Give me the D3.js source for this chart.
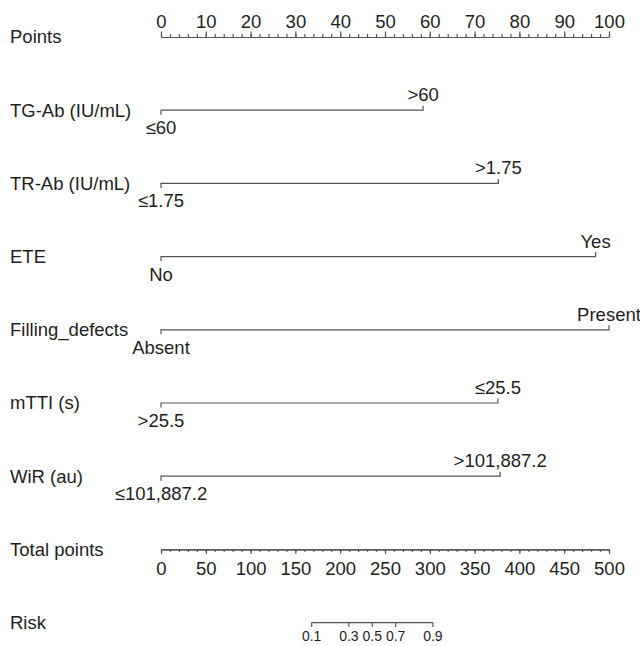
<!DOCTYPE html>
<html>
<head>
<meta charset="utf-8">
<script src="https://cdn.jsdelivr.net/npm/d3@7"></script>
<style>
  html, body { margin: 0; padding: 0; background: #fff; }
  svg { display: block; }
  text { font-family: "Liberation Sans", Arial, Helvetica, sans-serif; fill: #1e1e1e; }
</style>
</head>
<body>
<svg id="chart" width="640" height="646"></svg>
<script>
// Nomogram predictors: label, low-level text, high-level text, points of the high level
const predictors = ["TG-Ab (IU/mL)", "TR-Ab (IU/mL)", "ETE", "Filling_defects", "mTTI (s)", "WiR (au)"];
const lowLevels  = ["\u226460", "\u22641.75", "No", "Absent", ">25.5", "\u2264101,887.2"];
const highLevels = [">60", ">1.75", "Yes", "Present", "\u226425.5", ">101,887.2"];
const highPoints = [58.5, 75.3, 97.0, 100, 75.2, 75.7];

// Axis ticks
const pointTicks = d3.range(0, 101, 10);
const pointMinor = d3.range(0, 101, 2);
const totalTicks = d3.range(0, 501, 50);
const totalMinor = d3.range(0, 501, 10);
const riskTicks = [0.1, 0.3, 0.5, 0.7, 0.9];

// Logistic link: total points at 50% risk and points per logit unit
const riskCenter = 235.8;
const pointsPerLogit = 30.8;

const svg = d3.select("#chart");
const left = 161, right = 609;
const row0 = 37, rowStep = 73.2;
const rowY = i => row0 + rowStep * i;
const lineColor = "#555";
const labelSize = 18.5;

const xPoints = d3.scaleLinear().domain([0, 100]).range([left, right]);
const xTotal = d3.scaleLinear().domain([0, 500]).range([left, right]);
const logit = p => Math.log(p / (1 - p));
const xRisk = p => xTotal(riskCenter + pointsPerLogit * logit(p));

function styleAxis(g, fontSize) {
  g.selectAll("path.domain").attr("stroke", lineColor).attr("stroke-width", 1.2);
  g.selectAll(".tick line").attr("stroke", lineColor).attr("stroke-width", 1.2);
  g.selectAll(".tick text")
    .attr("font-size", fontSize)
    .attr("font-family", null)
    .style("fill", "#1e1e1e");
}

// Row labels
const rowLabels = ["Points"].concat(predictors, ["Total points", "Risk"]);
svg.append("g").selectAll("text")
  .data(rowLabels)
  .join("text")
  .attr("x", 10)
  .attr("y", (d, i) => rowY(i))
  .attr("dy", "0.35em")
  .attr("font-size", labelSize)
  .text(d => d);

// Points axis (top)
const gPts = svg.append("g").attr("transform", `translate(0,${rowY(0)})`);
gPts.append("g")
  .call(d3.axisTop(xPoints).tickValues(pointMinor).tickSize(3).tickSizeOuter(0).tickFormat(""))
  .call(g => styleAxis(g, labelSize));
gPts.append("g")
  .call(d3.axisTop(xPoints).tickValues(pointTicks).tickSize(5.5).tickSizeOuter(0).tickPadding(4).tickFormat(d3.format("d")))
  .call(g => styleAxis(g, labelSize));

// Predictor scales
predictors.forEach((name, i) => {
  const y = rowY(i + 1);
  const x0 = xPoints(0), x1 = xPoints(highPoints[i]);
  const g = svg.append("g");
  g.append("path")
    .attr("d", `M${x0},${y + 4.5}V${y}H${x1}V${y - 4.5}`)
    .attr("fill", "none")
    .attr("stroke", lineColor)
    .attr("stroke-width", 1.2);
  g.append("text")
    .attr("x", x0).attr("y", y + 17.5).attr("dy", "0.35em")
    .attr("text-anchor", "middle").attr("font-size", labelSize)
    .text(lowLevels[i]);
  g.append("text")
    .attr("x", x1).attr("y", y - 15.5).attr("dy", "0.35em")
    .attr("text-anchor", "middle").attr("font-size", labelSize)
    .text(highLevels[i]);
});

// Total points axis
const gTot = svg.append("g").attr("transform", `translate(0,${rowY(7)})`);
gTot.append("g")
  .call(d3.axisBottom(xTotal).tickValues(totalMinor).tickSize(2.5).tickSizeOuter(0).tickFormat(""))
  .call(g => styleAxis(g, labelSize));
gTot.append("g")
  .call(d3.axisBottom(xTotal).tickValues(totalTicks).tickSize(4.5).tickSizeOuter(0).tickPadding(8).tickFormat(d3.format("d")))
  .call(g => styleAxis(g, labelSize));

// Risk axis
const gRisk = svg.append("g").attr("transform", `translate(0,${rowY(8)})`);
gRisk.append("path")
  .attr("d", `M${xRisk(riskTicks[0])},0H${xRisk(riskTicks[riskTicks.length - 1])}`)
  .attr("stroke", lineColor).attr("stroke-width", 1.2);
const rt = gRisk.selectAll("g.rtick").data(riskTicks).join("g")
  .attr("class", "rtick")
  .attr("transform", d => `translate(${xRisk(d)},0)`);
rt.append("line").attr("y2", 4.5).attr("stroke", lineColor).attr("stroke-width", 1.2);
rt.append("text")
  .attr("y", 14).attr("dy", "0.35em")
  .attr("text-anchor", "middle").attr("font-size", 14)
  .text(d => d3.format(".1f")(d));
</script>
</body>
</html>
